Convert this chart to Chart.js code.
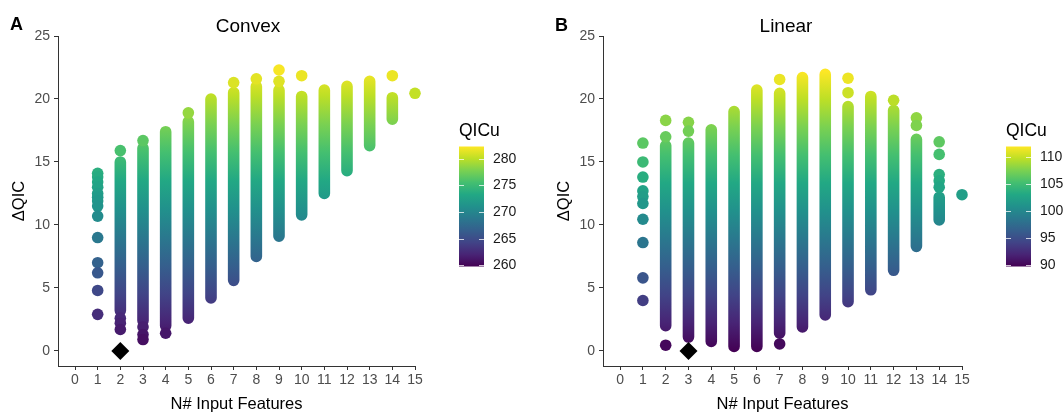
<!DOCTYPE html>
<html>
<head>
<meta charset="utf-8">
<script src="https://cdn.jsdelivr.net/npm/chart.js@4/dist/chart.umd.min.js"></script>
<style>
  body { margin: 0; background: #fff; width: 1063px; height: 414px; overflow: hidden; position: relative;
         font-family: "Liberation Sans", Arial, sans-serif; }
  .panel { position: absolute; top: 0; }
  .tag { position: absolute; font-weight: bold; font-size: 18px; line-height: 18px; color: #000; }
  .title { position: absolute; font-size: 19px; line-height: 19px; color: #000; transform: translateX(-50%); white-space: nowrap; }
</style>
</head>
<body>
<div class="panel" style="left:0"><canvas id="convex" width="545" height="414"></canvas></div>
<div class="panel" style="left:545px"><canvas id="linear" width="518" height="414"></canvas></div>
<div class="tag" style="left:10px;top:15px">A</div>
<div class="title" style="left:248px;top:15.5px">Convex</div>
<div class="tag" style="left:555px;top:16px">B</div>
<div class="title" style="left:786px;top:15.5px">Linear</div>
<script>
const FONT = '"Liberation Sans", Arial, sans-serif';

// axis ticks
const xTicks = [0, 1, 2, 3, 4, 5, 6, 7, 8, 9, 10, 11, 12, 13, 14, 15];
const yTicks = [0, 5, 10, 15, 20, 25];

// Convex: dense columns (lo..hi of dQIC) + single visible points
const convexBandX  = [2, 3, 4, 5, 6, 7, 8, 9, 10, 11, 12, 13, 14];
const convexBandLo = [3.2, 2.4, 2.0, 2.6, 4.2, 5.6, 7.5, 9.1, 10.8, 12.5, 14.3, 16.3, 18.4];
const convexBandHi = [15.0, 16.1, 17.4, 18.2, 20.0, 20.5, 21.0, 20.7, 20.2, 20.7, 21.0, 21.4, 20.1];
const convexDotX = [1, 1, 1, 1, 1, 1, 1, 1, 1, 1, 1, 1, 1, 1, 2, 2, 2, 2, 3, 3, 3, 3, 4, 5, 7, 8, 9, 9, 10, 14, 15];
const convexDotY = [14.1, 13.8, 13.4, 13.0, 12.5, 12.2, 11.9, 11.5, 10.7, 9.0, 7.0, 6.2, 4.8, 2.9,
                    15.9, 2.6, 2.2, 1.7, 16.7, 1.9, 1.3, 0.9, 1.4, 18.9, 21.3, 21.6, 22.3, 21.4, 21.85, 21.85, 20.45];
const convexBest = [2, 0];
const convexQicuRange = [259.8, 282.3];
const convexQicuTicks = [260, 265, 270, 275, 280];

// Linear
const linearBandX  = [2, 3, 4, 5, 6, 7, 8, 9, 10, 11, 12, 13, 14];
const linearBandLo = [2.0, 1.1, 0.75, 0.35, 0.35, 1.4, 1.9, 2.85, 3.9, 4.85, 6.4, 8.3, 10.4];
const linearBandHi = [16.3, 16.5, 17.55, 19.0, 20.7, 20.45, 21.7, 21.95, 19.4, 20.2, 19.1, 16.8, 12.2];
const linearDotX = [1, 1, 1, 1, 1, 1, 1, 1, 1, 1, 2, 2, 2, 3, 3, 7, 7, 10, 10, 12, 13, 13, 14, 14, 14, 14, 14, 15];
const linearDotY = [16.5, 15.0, 13.8, 12.7, 12.25, 11.7, 10.45, 8.6, 5.8, 4.0,
                    18.3, 17.0, 0.45, 18.15, 17.45, 21.55, 0.55, 21.65, 20.5, 19.9, 18.5, 17.9,
                    16.6, 15.6, 14.0, 13.5, 13.0, 12.4];
const linearBest = [3, 0];
const linearQicuRange = [89.8, 112.0];
const linearQicuTicks = [90, 95, 100, 105, 110];

const viridis = ['#440154', '#482475', '#414487', '#355f8d', '#2a788e', '#21918c',
                 '#22a884', '#44bf70', '#7ad151', '#bddf26', '#fde725'];

function hexRgb(h) {
  return [parseInt(h.slice(1, 3), 16), parseInt(h.slice(3, 5), 16), parseInt(h.slice(5, 7), 16)];
}
function viridisAt(t) {
  t = Math.max(0, Math.min(1, t));
  const p = t * (viridis.length - 1);
  const i = Math.min(Math.floor(p), viridis.length - 2);
  const f = p - i;
  const a = hexRgb(viridis[i]), b = hexRgb(viridis[i + 1]);
  return 'rgb(' + a.map((v, k) => Math.round(v + (b[k] - v) * f)).join(',') + ')';
}

// colorbar legend drawn to the right of the plot area
const colorbar = {
  id: 'colorbar',
  afterDraw(chart, args, o) {
    const { ctx, chartArea } = chart;
    const x = chartArea.right + 44, top = chartArea.top + 110.5, w = 25, h = 120;
    const [lo, hi] = o.range;
    const g = ctx.createLinearGradient(0, top + h, 0, top);
    viridis.forEach((c, i) => g.addColorStop(i / (viridis.length - 1), c));
    ctx.save();
    ctx.fillStyle = g;
    ctx.fillRect(x, top, w, h);
    ctx.strokeStyle = 'rgba(255,255,255,0.75)';
    ctx.lineWidth = 1;
    ctx.fillStyle = '#1a1a1a';
    ctx.font = '14px ' + FONT;
    ctx.textBaseline = 'middle';
    ctx.textAlign = 'left';
    o.ticks.forEach(v => {
      const y = Math.round(top + h - (v - lo) / (hi - lo) * h) + 0.5;
      ctx.beginPath();
      ctx.moveTo(x, y); ctx.lineTo(x + 5, y);
      ctx.moveTo(x + w - 5, y); ctx.lineTo(x + w, y);
      ctx.stroke();
      ctx.fillText(String(v), x + 34, y);
    });
    ctx.font = '17.5px ' + FONT;
    ctx.textBaseline = 'alphabetic';
    ctx.fillStyle = '#000';
    ctx.fillText(o.title, x, top - 10.5);
    ctx.restore();
  }
};

function makeChart(id, bandX, bandLo, bandHi, dotX, dotY, best, range, qTicks, padRight) {
  const base = range[0]; // QICu at dQIC = 0
  const colorOf = y => viridisAt((base + y - range[0]) / (range[1] - range[0]));

  const bandData = [];
  bandX.forEach((x, i) => {
    bandData.push({ x: x, y: bandLo[i] }, { x: x, y: bandHi[i] }, { x: x, y: null });
  });
  const dotData = dotX.map((x, i) => ({ x: x, y: dotY[i] }));

  const axisCommon = {
    type: 'linear',
    grid: { drawOnChartArea: false, drawTicks: true, tickLength: 4, color: '#333', tickWidth: 1 },
    border: { display: true, color: '#333', width: 1 },
  };

  return new Chart(document.getElementById(id), {
    type: 'scatter',
    data: {
      datasets: [
        {
          data: [{ x: best[0], y: best[1] }],
          pointStyle: 'rectRot', pointRadius: 9, backgroundColor: '#000', borderColor: '#000', borderWidth: 0,
          clip: false
        },
        {
          data: dotData,
          pointRadius: 5.8, borderWidth: 0,
          backgroundColor: c => (c.raw ? colorOf(c.raw.y) : '#000'),
          clip: false
        },
        {
          data: bandData,
          showLine: true, spanGaps: false, pointRadius: 0,
          borderWidth: 11.6, borderCapStyle: 'round',
          borderColor: c => {
            const { ctx, chartArea, scales } = c.chart;
            if (!chartArea) return '#21918c';
            const g = ctx.createLinearGradient(0, scales.y.getPixelForValue(range[0] - base), 0,
                                                  scales.y.getPixelForValue(range[1] - base));
            viridis.forEach((col, i) => g.addColorStop(i / (viridis.length - 1), col));
            return g;
          },
          clip: false
        }
      ]
    },
    options: {
      responsive: false,
      animation: false,
      layout: { padding: { left: 0, right: padRight, top: 36, bottom: 0 } },
      plugins: {
        legend: { display: false },
        tooltip: { enabled: false },
        colorbar: { range: range, ticks: qTicks, title: 'QICu' }
      },
      scales: {
        x: Object.assign({}, axisCommon, {
          min: -0.75, max: 15,
          afterBuildTicks: s => { s.ticks = xTicks.map(v => ({ value: v })); },
          afterFit: s => { s.height = 48; },
          ticks: { color: '#4d4d4d', font: { size: 14, family: FONT }, padding: 2, maxRotation: 0, autoSkip: false },
          title: { display: true, text: 'N# Input Features', color: '#000',
                   font: { size: 16.5, family: FONT }, padding: { top: 0, bottom: 0 } }
        }),
        y: Object.assign({}, axisCommon, {
          min: -1.2, max: 25,
          afterBuildTicks: s => { s.ticks = yTicks.map(v => ({ value: v })); },
          afterFit: s => { s.width = 58; },
          ticks: { color: '#4d4d4d', font: { size: 14, family: FONT }, padding: 4 },
          title: { display: true, text: 'ΔQIC', color: '#000',
                   font: { size: 16.5, family: FONT }, padding: { top: 10, bottom: 0 } }
        })
      }
    },
    plugins: [colorbar]
  });
}

makeChart('convex', convexBandX, convexBandLo, convexBandHi, convexDotX, convexDotY,
          convexBest, convexQicuRange, convexQicuTicks, 130);
makeChart('linear', linearBandX, linearBandLo, linearBandHi, linearDotX, linearDotY,
          linearBest, linearQicuRange, linearQicuTicks, 101);
</script>
</body>
</html>
